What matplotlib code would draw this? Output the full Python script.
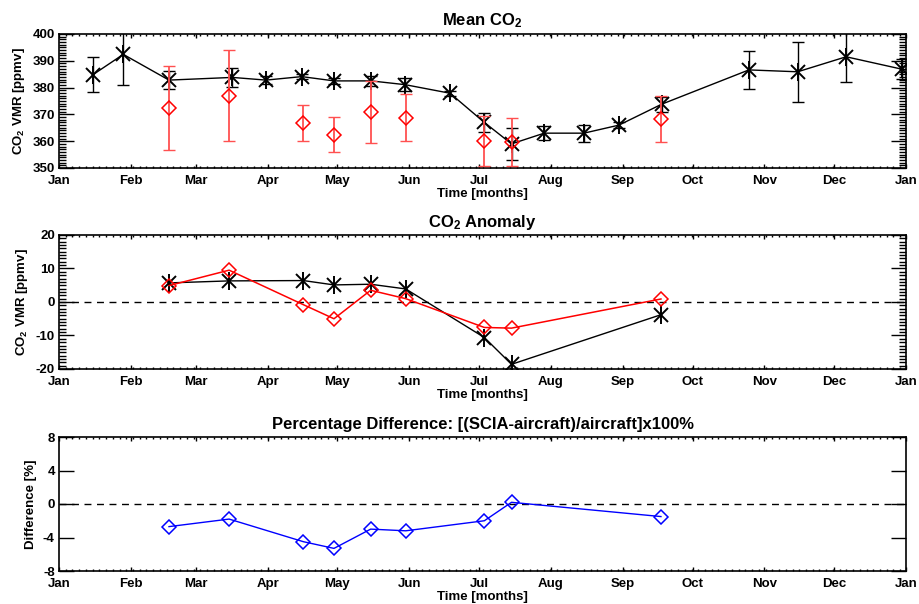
import numpy as np
import matplotlib
matplotlib.use("Agg")
import matplotlib.pyplot as plt
from matplotlib.ticker import MultipleLocator

plt.rcParams['font.family'] = ['Liberation Sans', 'DejaVu Sans']
plt.rcParams['font.weight'] = 'bold'
plt.rcParams['axes.unicode_minus'] = False
plt.rcParams['mathtext.fontset'] = 'custom'
plt.rcParams['mathtext.rm'] = 'Liberation Sans:bold'
plt.rcParams['mathtext.bf'] = 'Liberation Sans:bold'
plt.rcParams['mathtext.it'] = 'Liberation Sans:bold'
plt.rcParams['mathtext.default'] = 'rm'

# meses (dia del año)
mes_dias = [0, 31, 59, 90, 120, 151, 181, 212, 243, 273, 304, 334, 365]
mes_nombres = ['Jan', 'Feb', 'Mar', 'Apr', 'May', 'Jun', 'Jul', 'Aug',
               'Sep', 'Oct', 'Nov', 'Dec', 'Jan']

# SCIAMACHY (negro)
dias_scia = [14.6, 27.7, 47.4, 74.7, 89.2, 104.6, 118.6, 134.5, 149.1, 168.5,
             183.3, 195.0, 209.1, 226.2, 241.3, 259.7, 297.3, 318.3, 339.2, 363.1]
media_scia = [384.8, 392.4, 382.8, 383.8, 382.8, 384.1, 382.5, 382.5, 381.1, 377.9,
              367.0, 359.0, 363.0, 363.0, 366.0, 373.8, 386.6, 385.9, 391.5, 386.9]
err_scia = [6.6, 11.3, 3.5, 3.7, 1.6, 0.8, 1.0, 1.8, 2.3, 1.0,
            3.7, 6.1, 2.7, 3.2, 1.0, 2.8, 7.2, 11.2, 9.5, 3.8]

# avion (rojo)
dias_avion = [47.4, 73.3, 105.3, 118.5, 134.3, 149.4, 183.3, 195.0, 259.4]
media_avion = [372.3, 377.0, 366.8, 362.4, 371.0, 368.8, 360.1, 359.8, 368.3]
err_avion = [15.7, 16.9, 6.8, 6.6, 11.5, 8.9, 9.3, 9.0, 8.6]

# anomalias
anom_scia = [5.7, 6.3, 6.4, 5.1, 5.3, 3.9, -10.6, -18.6, -3.8]
anom_avion = [4.9, 9.5, -0.8, -5.0, 3.5, 1.0, -7.6, -7.8, 0.9]

# diferencia porcentual
dif_pct = [-2.7, -1.8, -4.5, -5.3, -3.0, -3.2, -2.0, 0.2, -1.5]

fig = plt.figure(figsize=(9.19, 6.04), dpi=100)
izq, ancho, alto = 59 / 919, 847 / 919, 134 / 604
ax1 = fig.add_axes([izq, 1 - 168 / 604, ancho, alto])
ax2 = fig.add_axes([izq, 1 - 369 / 604, ancho, alto])
ax3 = fig.add_axes([izq, 1 - 571 / 604, ancho, alto])


def asterisco(ax, x, y, z=5):
    # asterisco tipo IDL: X mas barra vertical
    ax.plot(x, y, ls='none', marker='x', ms=10.5, mew=1.4, color='black', zorder=z)
    ax.plot(x, y, ls='none', marker='|', ms=13, mew=1.4, color='black', zorder=z)


def estilo(ax, ymin, ymax, ymaj, ymin_paso):
    ax.set_xlim(0, 365)
    ax.set_ylim(ymin, ymax)
    ax.set_xticks(mes_dias)
    ax.set_xticklabels(mes_nombres)
    ax.xaxis.set_minor_locator(MultipleLocator(2.9))
    ax.yaxis.set_major_locator(MultipleLocator(ymaj))
    if ymin_paso:
        ax.yaxis.set_minor_locator(MultipleLocator(ymin_paso))
    ax.tick_params(axis='both', which='both', direction='in', top=True, right=True,
                   labelsize=9.5, width=1)
    ax.tick_params(axis='y', which='major', length=11, pad=3)
    ax.tick_params(axis='y', which='minor', length=5)
    ax.tick_params(axis='x', which='major', length=3, pad=5)
    ax.tick_params(axis='x', which='minor', length=1.5)
    for s in ax.spines.values():
        s.set_linewidth(1.2)
    ax.set_xlabel('Time [months]', fontsize=9.5, fontweight='bold', labelpad=1)


# panel 1
ax1.errorbar(dias_scia, media_scia, yerr=err_scia, color='black', lw=1,
             ecolor='black', elinewidth=1, capsize=4, capthick=1, zorder=3)
asterisco(ax1, dias_scia, media_scia)
ax1.errorbar(dias_avion, media_avion, yerr=err_avion, fmt='none',
             ecolor='#ff5050', elinewidth=1.3, capsize=4, capthick=1, zorder=6)
ax1.plot(dias_avion, media_avion, ls='none', marker='D', ms=7.5, mfc='none',
         mec='red', mew=1.1, zorder=7)
estilo(ax1, 350, 400, 10, 1)
ax1.set_title('Mean CO$_2$', fontsize=12, fontweight='bold', pad=6)
ax1.set_ylabel('CO$_2$ VMR [ppmv]', fontsize=9.5, fontweight='bold')

# panel 2
ax2.axhline(0, color='black', ls=(0, (5, 4)), lw=1)
ax2.plot(dias_avion, anom_scia, color='black', lw=1, zorder=3)
asterisco(ax2, dias_avion, anom_scia, z=3)
ax2.plot(dias_avion, anom_avion, color='red', lw=1.1, marker='D', ms=7.5,
         mfc='none', mec='red', mew=1.1, zorder=4)
estilo(ax2, -20, 20, 10, 1)
ax2.set_title('CO$_2$ Anomaly', fontsize=12, fontweight='bold', pad=6)
ax2.set_ylabel('CO$_2$ VMR [ppmv]', fontsize=9.5, fontweight='bold')

# panel 3
ax3.axhline(0, color='black', ls=(0, (5, 4)), lw=1)
ax3.plot(dias_avion, dif_pct, color='blue', lw=1, marker='D', ms=7.5,
         mfc='none', mec='blue', mew=1.1)
estilo(ax3, -8, 8, 4, None)
ax3.set_title('Percentage Difference: [(SCIA-aircraft)/aircraft]x100%',
              fontsize=12, fontweight='bold', pad=6)
ax3.set_ylabel('Difference [%]', fontsize=9.5, fontweight='bold')

fig.savefig('out.png', dpi=100)
